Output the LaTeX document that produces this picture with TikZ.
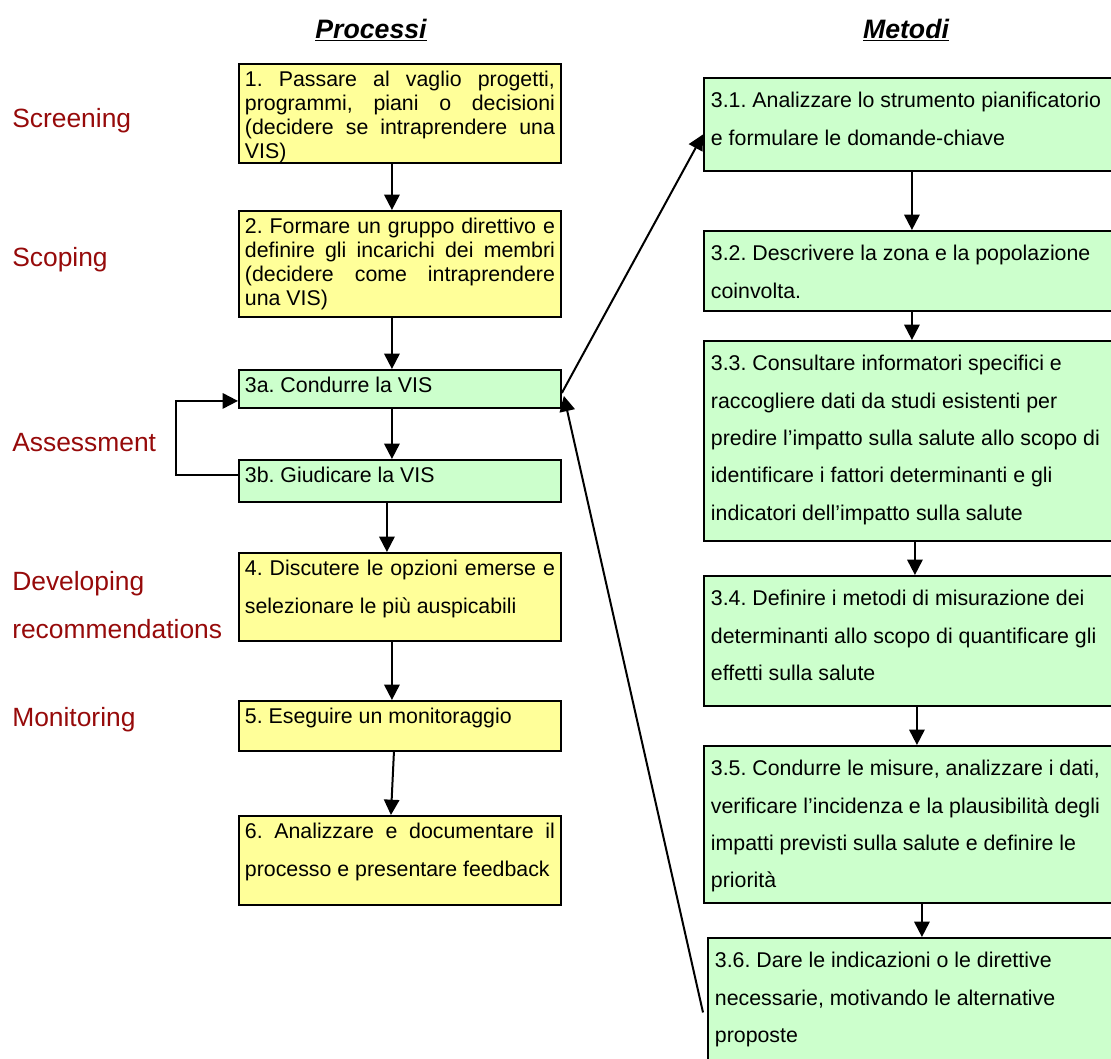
\documentclass[tikz,border=0pt]{standalone}
\usepackage{fontspec}
\setmainfont{Liberation Sans}
\usetikzlibrary{positioning,arrows.meta,calc}
\definecolor{procfill}{RGB}{255,255,153}
\definecolor{methfill}{RGB}{204,255,204}
\definecolor{phasered}{RGB}{150,10,10}
\newdimen\pxu \pxu=0.75pt
% text of a box, top aligned: height, text
\newcommand{\ptxt}[2]{\parbox[c][#1\pxu][t]{310\pxu}{\rule{0pt}{23\pxu}#2}}
\newcommand{\mtxt}[2]{\parbox[c][#1\pxu][t]{406\pxu}{\raggedright\rule{0pt}{30\pxu}#2}}
\tikzset{
  proc/.style={draw, line width=1.4pt, fill=procfill, anchor=north west,
    inner xsep=4.5pt, inner ysep=0pt, font=\fontsize{16}{18}\selectfont},
  procwide/.style={proc, font=\fontsize{16}{28}\selectfont},
  step3/.style={proc, fill=methfill},
  meth/.style={draw, line width=1.4pt, fill=methfill, anchor=north west,
    inner xsep=5.25pt, inner ysep=0pt, font=\fontsize{16}{28}\selectfont},
  phase/.style={anchor=west, inner sep=0pt, text=phasered,
    font=\fontsize{19.8}{36}\selectfont, align=left},
  head/.style={inner sep=0pt, font=\fontsize{20}{22}\selectfont\bfseries\itshape},
  flow/.style={-{Triangle[length=11.5pt, width=11.5pt]}, line width=1.5pt},
}
\frenchspacing
\begin{document}
\begin{tikzpicture}[x=0.75pt, y=-0.75pt]
  \useasboundingbox (0,0) rectangle (1111,1058);
  \clip (0,0) rectangle (1111,1058);
  % headings
  \node[head] (hp) at (371,30) {\underline{Processi}};
  \node[head] (hm) at (906,30) {\underline{Metodi}};
  % phases
  \node[phase] (screen) at (12,121) {Screening};
  \node[phase] (scope) at (12,260) {Scoping};
  \node[phase] (assess) at (12,443) {Assessment};
  \node[phase] (develop) at (12,605) {Developing\\recommendations};
  \node[phase] (monit) at (12,720) {Monitoring};
  % processi
  \node[proc] (p1) at (238,63) {\ptxt{99}{1. Passare al vaglio progetti,\linebreak
    programmi, piani o decisioni\linebreak (decidere se intraprendere una\linebreak VIS)}};
  \node[proc] (p2) at (238,210) {\ptxt{106}{2. Formare un gruppo direttivo e\linebreak
    definire gli incarichi dei membri\linebreak (decidere come intraprendere\linebreak una VIS)}};
  \node[step3] (p3a) at (238,369) {\ptxt{38}{3a. Condurre la VIS}};
  \node[step3] (p3b) at (238,459) {\ptxt{42}{3b. Giudicare la VIS}};
  \node[procwide] (p4) at (238,552) {\ptxt{88}{4. Discutere le opzioni emerse e\linebreak
    selezionare le più auspicabili}};
  \node[proc] (p5) at (238,700) {\ptxt{50}{5. Eseguire un monitoraggio}};
  \node[procwide] (p6) at (238,815) {\ptxt{89}{6. Analizzare e documentare il\linebreak
    processo e presentare feedback}};
  % metodi
  \node[meth] (m1) at (703,77) {\mtxt{93}{3.1. Analizzare lo strumento pianificatorio\\
    e formulare le domande-chiave}};
  \node[meth] (m2) at (703,230) {\mtxt{80}{3.2. Descrivere la zona e la popolazione\\
    coinvolta.}};
  \node[meth] (m3) at (703,340) {\mtxt{200}{3.3. Consultare informatori specifici e\\
    raccogliere dati da studi esistenti per\\
    predire l’impatto sulla salute allo scopo di\\
    identificare i fattori determinanti e gli\\
    indicatori dell’impatto sulla salute}};
  \node[meth] (m4) at (703,575) {\mtxt{130}{3.4. Definire i metodi di misurazione dei\\
    determinanti allo scopo di quantificare gli\\
    effetti sulla salute}};
  \node[meth] (m5) at (703,745) {\mtxt{157}{3.5. Condurre le misure, analizzare i dati,\\
    verificare l’incidenza e la plausibilità degli\\
    impatti previsti sulla salute e definire le\\
    priorità}};
  \node[meth] (m6) at (707,937) {\mtxt{133}{3.6. Dare le indicazioni o le direttive\\
    necessarie, motivando le alternative\\
    proposte}};
  % arrows, processi
  \draw[flow] ($(p1.south)+(-8,0)$) -- ($(p2.north)+(-8,0)$);
  \draw[flow] ($(p2.south)+(-8,0)$) -- ($(p3a.north)+(-8,0)$);
  \draw[flow] ($(p3a.south)+(-8,0)$) -- ($(p3b.north)+(-8,0)$);
  \draw[flow] ($(p3b.south)+(-13,0)$) -- ($(p4.north)+(-13,0)$);
  \draw[flow] ($(p4.south)+(-8,0)$) -- ($(p5.north)+(-8,0)$);
  \draw[flow] ($(p5.south)+(-6,0)$) -- ($(p6.north)+(-9,0)$);
  \draw[flow] ($(p3b.west)+(0,-6)$) -- ++(-62,0) |- ($(p3a.west)+(0,12)$);
  % arrows, metodi
  \draw[flow] ($(m1.south)+(-2,0)$) -- ($(m2.north)+(-2,0)$);
  \draw[flow] ($(m2.south)+(-2,0)$) -- ($(m3.north)+(-2,0)$);
  \draw[flow] ($(m3.south)+(1,0)$) -- ($(m4.north)+(1,0)$);
  \draw[flow] ($(m4.south)+(3,0)$) -- ($(m5.north)+(3,0)$);
  \draw[flow] ($(m5.south)+(8,0)$) -- ($(m6.north)+(4,0)$);
  % between the columns
  \draw[flow] ($(p3a.east)+(0,4)$) -- ($(m1.west)+(0,10)$);
  \draw[flow] ($(m6.west)+(-4,8)$) -- ($(p3a.east)+(2,7)$);
\end{tikzpicture}
\end{document}
